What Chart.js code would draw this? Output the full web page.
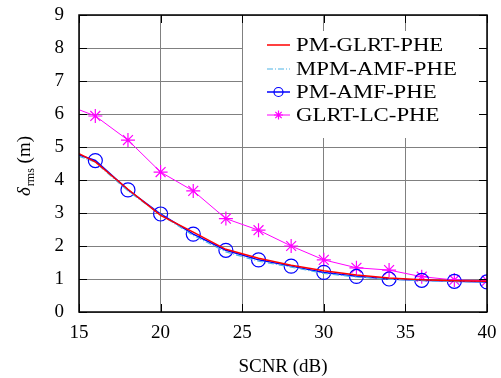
<!DOCTYPE html>
<html>
<head>
    <title>SCNR vs delta rms</title>
    <script src="https://cdn.jsdelivr.net/npm/chart.js"></script>
    <style>
        html, body { margin: 0; padding: 0; background: #fff; }
        .chart-box { width: 501px; height: 378px; position: relative; }
    </style>
</head>
<body>
    <div class="chart-box">
        <canvas id="rmsChart"></canvas>
    </div>

    <script>
        // SCNR (dB)
        const scnr = [15, 16, 18, 20, 22, 24, 26, 28, 30, 32, 34, 36, 38, 40];

        // delta_rms (m) for each method
        const pmGlrt = [4.80, 4.55, 3.72, 2.93, 2.42, 1.90, 1.63, 1.42, 1.25, 1.12, 1.03, 0.98, 0.95, 0.93];
        const mpmAmf = [4.72, 4.54, 3.67, 2.95, 2.32, 1.82, 1.54, 1.36, 1.17, 1.06, 0.99, 0.95, 0.92, 0.91];
        const pmAmf = [4.76, 4.59, 3.70, 2.97, 2.36, 1.87, 1.58, 1.39, 1.20, 1.08, 1.00, 0.96, 0.93, 0.91];
        const glrtLc = [6.13, 5.94, 5.21, 4.24, 3.67, 2.83, 2.48, 2.00, 1.58, 1.34, 1.27, 1.07, 0.97, 0.95];

        const seriesNames = ['PM-GLRT-PHE', 'MPM-AMF-PHE', 'PM-AMF-PHE', 'GLRT-LC-PHE'];
        const xTicks = [15, 20, 25, 30, 35, 40];
        const yTicks = [0, 1, 2, 3, 4, 5, 6, 7, 8, 9];

        const serif = '"Liberation Serif", "DejaVu Serif", serif';

        function pts(vals) {
            return vals.map((v, i) => ({ x: scnr[i], y: v }));
        }
        // no marker at the first (x=15) point
        const markerRadius = scnr.map((x, i) => i === 0 ? 0 : 7);

        const datasets = [
            {
                label: seriesNames[0],
                data: pts(pmGlrt),
                borderColor: '#ff0000',
                borderWidth: 1.5,
                pointRadius: 0
            },
            {
                label: seriesNames[1],
                data: pts(mpmAmf),
                borderColor: '#4fb4e6',
                borderWidth: 1.2,
                borderDash: [6, 2, 1, 2],
                pointRadius: 0
            },
            {
                label: seriesNames[2],
                data: pts(pmAmf),
                borderColor: '#0000ff',
                borderWidth: 1.5,
                pointStyle: 'circle',
                pointRadius: markerRadius,
                pointBorderColor: '#0000ff',
                pointBackgroundColor: 'rgba(0,0,0,0)',
                pointBorderWidth: 1.2
            },
            {
                label: seriesNames[3],
                data: pts(glrtLc),
                borderColor: '#ff00ff',
                borderWidth: 1,
                pointStyle: 'star',
                pointRadius: markerRadius,
                pointBorderColor: '#ff00ff',
                pointBorderWidth: 1.2
            }
        ];

        // legend box, inner tick marks, frame and y title
        const decorations = {
            id: 'decorations',
            afterDatasetsDraw(chart) {
                const ctx = chart.ctx;
                const area = chart.chartArea;
                const xs = chart.scales.x, ys = chart.scales.y;

                // legend
                const boxL = 243, boxT = 31, boxR = 479, boxB = 138;
                ctx.save();
                ctx.fillStyle = '#fff';
                ctx.fillRect(boxL, boxT, boxR - boxL, boxB - boxT);
                ctx.font = '19px ' + serif;
                ctx.textBaseline = 'middle';
                ctx.textAlign = 'left';
                const rowY = [45, 69, 92, 115];
                datasets.forEach((ds, i) => {
                    const y = rowY[i];
                    ctx.strokeStyle = ds.borderColor;
                    ctx.lineWidth = ds.borderWidth;
                    ctx.setLineDash(ds.borderDash || []);
                    ctx.beginPath();
                    ctx.moveTo(267, y);
                    ctx.lineTo(290, y);
                    ctx.stroke();
                    ctx.setLineDash([]);
                    if (ds.pointStyle) {
                        ctx.strokeStyle = ds.pointBorderColor;
                        ctx.lineWidth = 1.2;
                        ctx.beginPath();
                        if (ds.pointStyle === 'circle') {
                            ctx.arc(278.5, y, 4.5, 0, Math.PI * 2);
                        } else {
                            for (let k = 0; k < 4; k++) {
                                const a = k * Math.PI / 4;
                                ctx.moveTo(278.5 - 4.5 * Math.cos(a), y - 4.5 * Math.sin(a));
                                ctx.lineTo(278.5 + 4.5 * Math.cos(a), y + 4.5 * Math.sin(a));
                            }
                        }
                        ctx.stroke();
                    }
                    ctx.fillStyle = '#000';
                    ctx.save();
                    ctx.translate(296, y + 1);
                    ctx.scale(1.2, 1);
                    ctx.fillText(ds.label, 0, 0);
                    ctx.restore();
                });

                // inner tick marks on all four sides
                ctx.strokeStyle = '#000';
                ctx.lineWidth = 1;
                ctx.beginPath();
                yTicks.forEach(v => {
                    const y = Math.round(ys.getPixelForValue(v)) + 0.5;
                    ctx.moveTo(area.left, y); ctx.lineTo(area.left + 8, y);
                    ctx.moveTo(area.right, y); ctx.lineTo(area.right - 8, y);
                });
                xTicks.forEach(v => {
                    const x = Math.round(xs.getPixelForValue(v)) + 0.5;
                    ctx.moveTo(x, area.bottom); ctx.lineTo(x, area.bottom - 8);
                    ctx.moveTo(x, area.top); ctx.lineTo(x, area.top + 8);
                });
                ctx.stroke();

                // frame
                ctx.lineWidth = 1.5;
                ctx.strokeRect(area.left, area.top, area.right - area.left, area.bottom - area.top);

                // y title: delta with subscript rms, then (m)
                ctx.translate(30, 166);
                ctx.rotate(-Math.PI / 2);
                ctx.fillStyle = '#000';
                ctx.textBaseline = 'alphabetic';
                ctx.textAlign = 'left';
                ctx.font = 'italic 19px ' + serif;
                const w1 = ctx.measureText('δ').width;
                ctx.font = '12px ' + serif;
                const w2 = ctx.measureText('rms').width;
                ctx.font = '19px ' + serif;
                const w3 = ctx.measureText(' (m)').width;
                let x0 = -(w1 + w2 + w3 + 1) / 2;
                ctx.font = 'italic 19px ' + serif;
                ctx.fillText('δ', x0, 0);
                x0 += w1 + 1;
                ctx.font = '12px ' + serif;
                ctx.fillText('rms', x0, 4);
                x0 += w2;
                ctx.font = '19px ' + serif;
                ctx.fillText(' (m)', x0, 0);
                ctx.restore();
            }
        };

        new Chart(document.getElementById('rmsChart'), {
            type: 'line',
            data: { datasets: datasets },
            options: {
                responsive: true,
                maintainAspectRatio: false,
                animation: false,
                layout: { padding: { top: 15, right: 14, bottom: 0, left: 0 } },
                plugins: {
                    legend: { display: false },
                    tooltip: { enabled: false }
                },
                elements: { line: { tension: 0 } },
                scales: {
                    x: {
                        type: 'linear',
                        min: 15,
                        max: 40,
                        afterBuildTicks: axis => { axis.ticks = xTicks.map(v => ({ value: v })); },
                        afterFit: axis => {
                            axis.height = 66;
                            axis.paddingLeft = 0;
                            axis.paddingRight = 0;
                        },
                        grid: { color: '#808080', lineWidth: 1, drawTicks: false },
                        border: { display: false },
                        ticks: {
                            color: '#000',
                            padding: 10,
                            font: { family: serif, size: 19 }
                        },
                        title: {
                            display: true,
                            text: 'SCNR (dB)',
                            color: '#000',
                            padding: { top: 0, bottom: 0 },
                            font: { family: serif, size: 19 }
                        }
                    },
                    y: {
                        min: 0,
                        max: 9,
                        afterBuildTicks: axis => { axis.ticks = yTicks.map(v => ({ value: v })); },
                        afterFit: axis => {
                            axis.width = 79;
                            axis.paddingTop = 0;
                            axis.paddingBottom = 0;
                        },
                        grid: { color: '#808080', lineWidth: 1, drawTicks: false },
                        border: { display: false },
                        ticks: {
                            color: '#000',
                            padding: 15,
                            font: { family: serif, size: 19 }
                        }
                    }
                }
            },
            plugins: [decorations]
        });
    </script>
</body>
</html>
